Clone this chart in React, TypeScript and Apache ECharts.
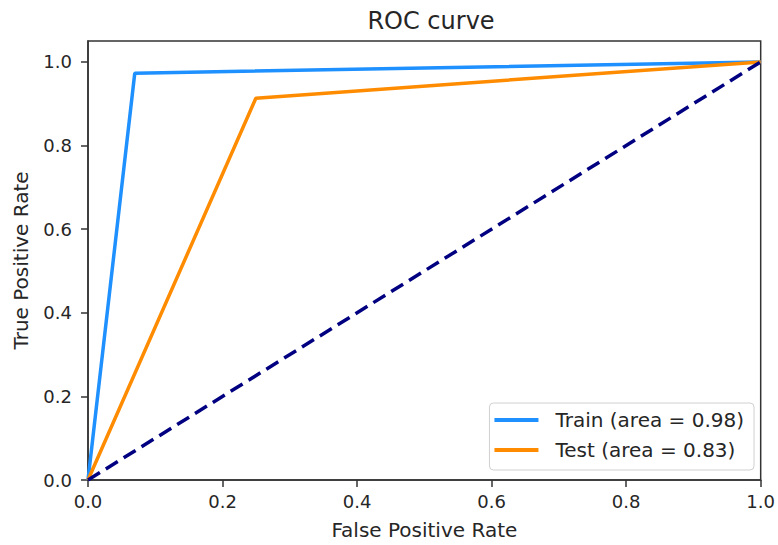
import React, { useEffect, useRef } from "react";
import * as echarts from "echarts";

const trainFpr = [0, 0.0695, 1];
const trainTpr = [0, 0.973, 1];
const testFpr = [0, 0.2495, 1];
const testTpr = [0, 0.913, 1];
const diagX = [0, 1];
const diagY = [0, 1];
const tickValues = [0, 0.2, 0.4, 0.6, 0.8, 1.0];
const seriesNames = ["Train (area = 0.98)", "Test (area = 0.83)"];
const titleText = "ROC curve";
const xName = "False Positive Rate";
const yName = "True Positive Rate";

const FONT = "DejaVu Sans";
const TXT = "#262626";

export default function App() {
  const ref = useRef<HTMLDivElement>(null);
  useEffect(() => {
    if (!ref.current) return;
    const chart = echarts.init(ref.current, undefined, { renderer: "svg" });
    const pairs = (xs: number[], ys: number[]) => xs.map((x, i) => [x, ys[i]]);
    const axisCommon = {
      axisLine: { show: true, onZero: false, lineStyle: { color: "#333", width: 1.5 } },
      axisTick: { show: true, inside: false, length: 7, lineStyle: { color: "#333", width: 1.5 }, customValues: tickValues },
      axisLabel: {
        color: TXT,
        fontFamily: FONT,
        fontSize: 18,
        customValues: tickValues,
        formatter: (v: number) => v.toFixed(1),
      },
      splitLine: { show: false },
      nameLocation: "middle" as const,
      nameTextStyle: { color: TXT, fontFamily: FONT, fontSize: 20 },
    };
    chart.setOption({
      animation: false,
      backgroundColor: "#fff",
      title: {
        text: titleText,
        left: 426,
        textAlign: "center",
        top: 4,
        textStyle: { color: TXT, fontFamily: FONT, fontSize: 24, fontWeight: "normal" },
      },
      grid: { left: 88, right: 14, top: 41, bottom: 65, containLabel: false, show: true, borderColor: "#333", borderWidth: 1.5 },
      xAxis: {
        type: "value",
        min: 0,
        max: 1,
        interval: 0.2,
        name: xName,
        nameGap: 40,
        ...axisCommon,
        axisLabel: { ...axisCommon.axisLabel, margin: 12 },
      },
      yAxis: {
        type: "value",
        min: 0,
        max: 1.05,
        name: yName,
        nameGap: 57,
        nameRotate: 90,
        ...axisCommon,
        axisLabel: { ...axisCommon.axisLabel, margin: 16 },
      },
      legend: {
        show: true,
        orient: "vertical",
        right: 24,
        bottom: 75,
        data: seriesNames.map((n) => ({ name: n, icon: "rect" })),
        backgroundColor: "#fff",
        borderColor: "#d0d0d0",
        borderWidth: 1,
        borderRadius: 4,
        padding: [7, 10, 10, 5],
        itemWidth: 44,
        itemHeight: 4,
        itemGap: 10,
        textStyle: { color: TXT, fontFamily: FONT, fontSize: 20, padding: [0, 0, 0, 12] },
      },
      series: [
        {
          name: seriesNames[0],
          type: "line",
          data: pairs(trainFpr, trainTpr),
          symbol: "none",
          lineStyle: { color: "#1E90FF", width: 3.5 },
          itemStyle: { color: "#1E90FF" },
          z: 2,
        },
        {
          name: seriesNames[1],
          type: "line",
          data: pairs(testFpr, testTpr),
          symbol: "none",
          lineStyle: { color: "#FF8C00", width: 3.5 },
          itemStyle: { color: "#FF8C00" },
          z: 3,
        },
        {
          name: "diag",
          type: "line",
          data: pairs(diagX, diagY),
          symbol: "none",
          lineStyle: { color: "#000080", width: 3.5, type: [14, 7] },
          itemStyle: { color: "#000080" },
          z: 4,
        },
      ],
    });
    return () => chart.dispose();
  }, []);
  return <div ref={ref} style={{ width: 778, height: 545, position: "absolute", left: 0, top: 0 }} />;
}
